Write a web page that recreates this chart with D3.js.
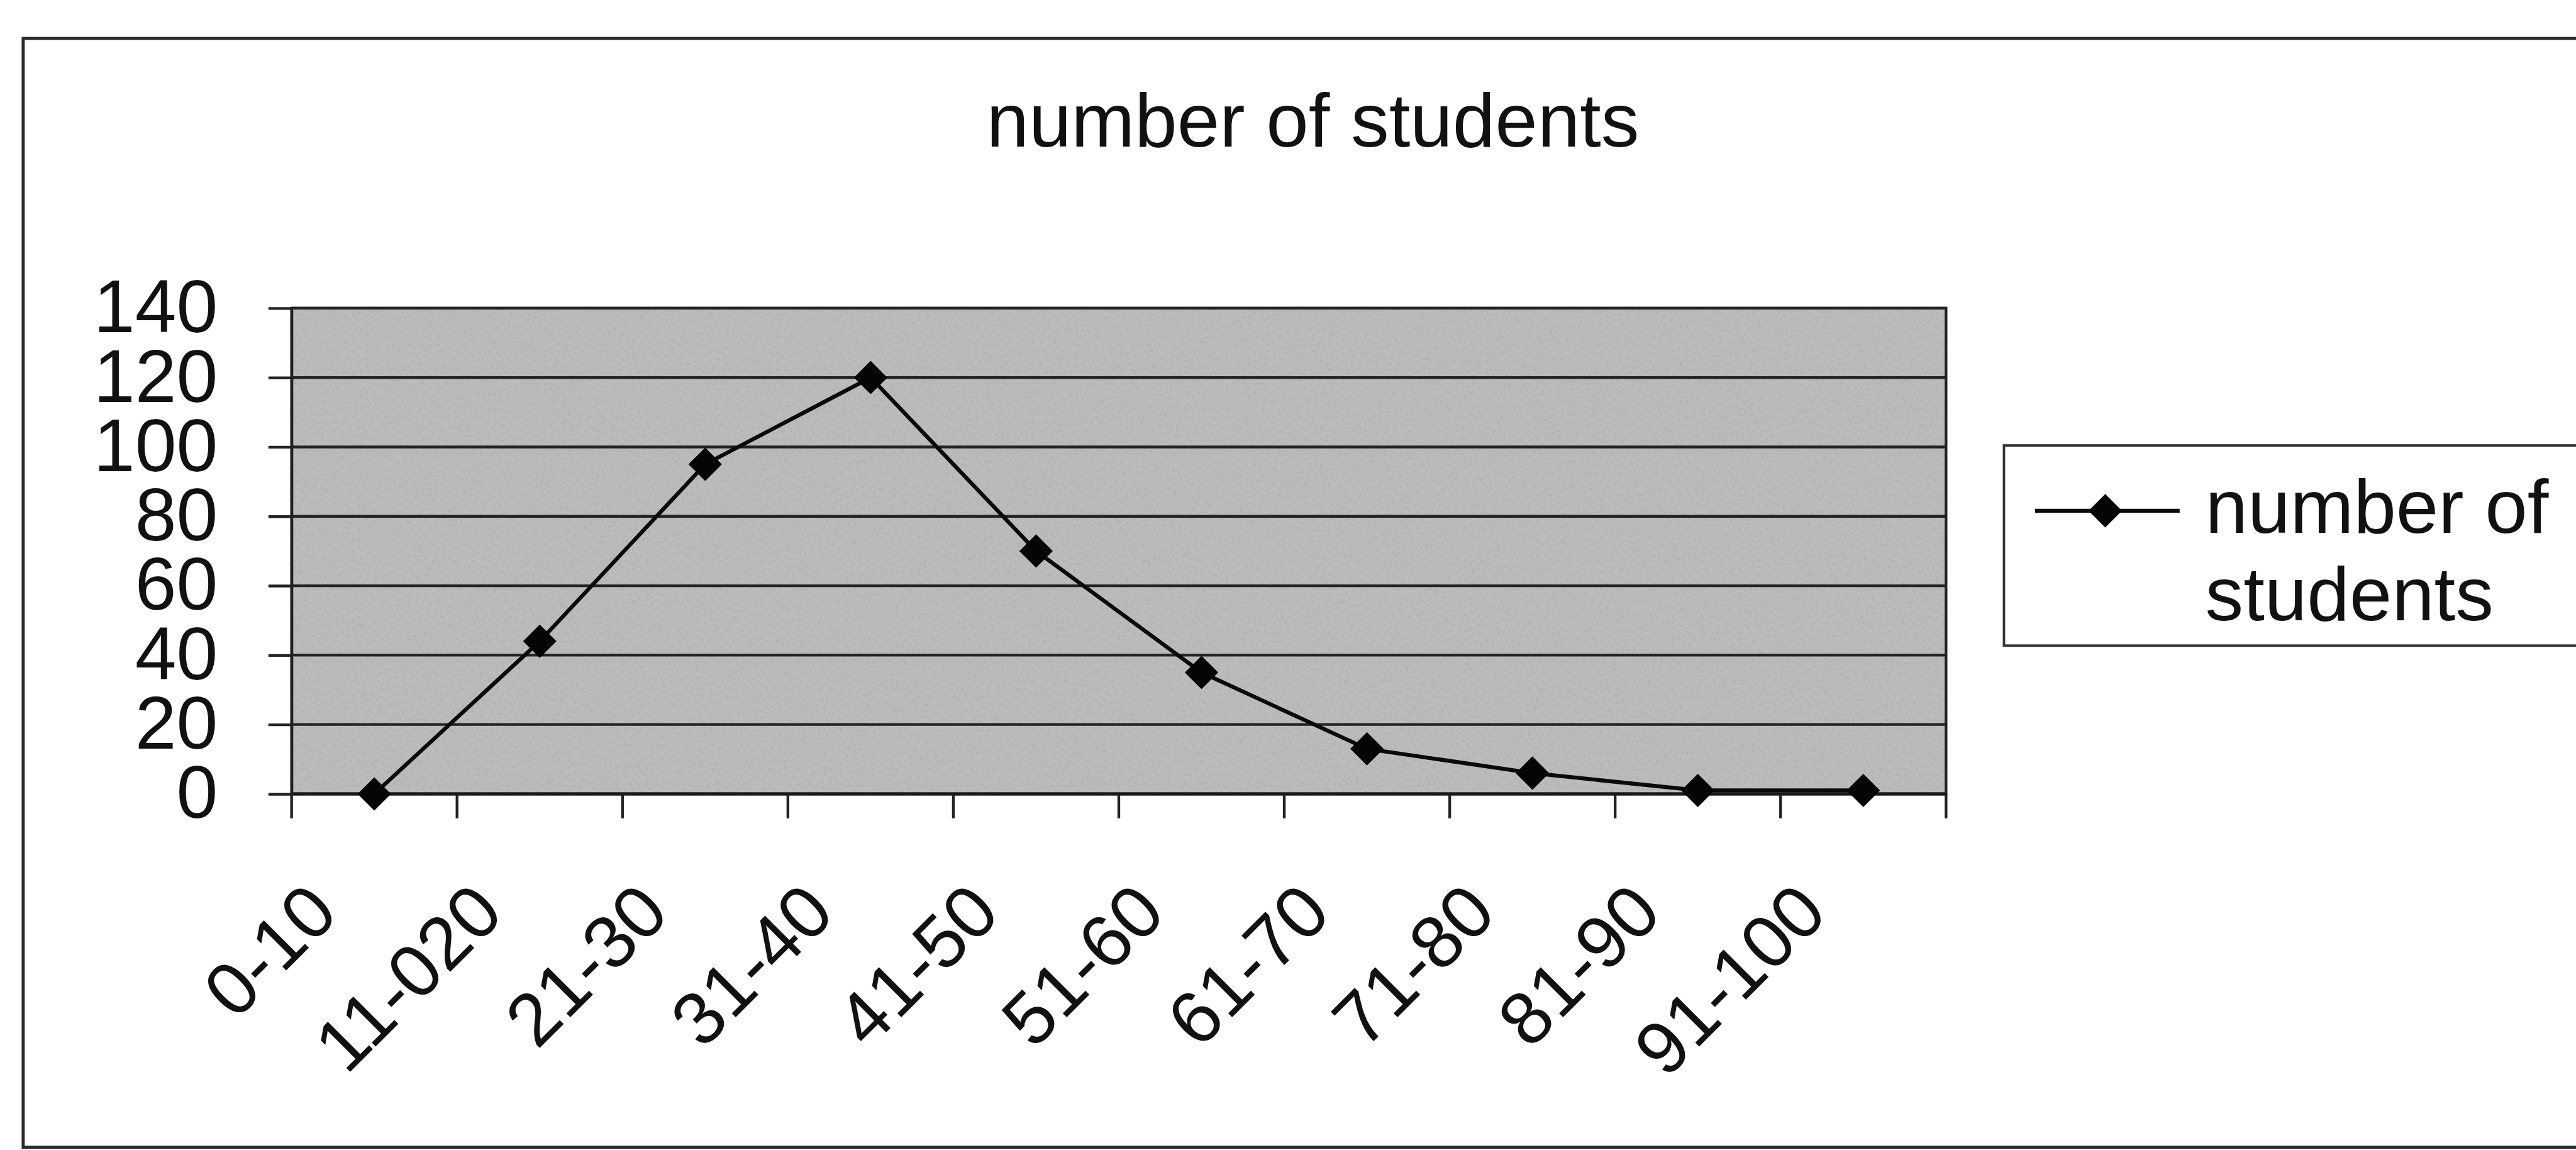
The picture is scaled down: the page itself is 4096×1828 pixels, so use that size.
<!DOCTYPE html>
<html>
<head>
<meta charset="utf-8">
<script src="https://cdn.jsdelivr.net/npm/d3@7"></script>
<style>
  body { margin: 0; background: #fff; overflow: hidden; }
  text { font-family: "Liberation Sans", Arial, sans-serif; fill: #111; }
</style>
</head>
<body>
<div id="chart"></div>
<script>
// data
const categories = ["0-10", "11-020", "21-30", "31-40", "41-50", "51-60", "61-70", "71-80", "81-90", "91-100"];
const students = [0, 44, 95, 120, 70, 35, 13, 6, 1, 1];
const yTicks = [0, 20, 40, 60, 80, 100, 120, 140];
const chartTitle = "number of students";
const legendLines = ["number of", "students"];

// everything is laid out in reference pixels, then scaled to the window
const k = 0.97;
const titleSize = 125;
const tickSize = 122;
const plot = { left: 478, right: 3190, top: 505, bottom: 1301 };

const svg = d3.select("#chart").append("svg")
  .attr("width", 4096)
  .attr("height", 1828);

// speckled grey like the scanned plot area
const grain = svg.append("defs").append("filter")
  .attr("id", "grain")
  .attr("x", 0).attr("y", 0).attr("width", 1).attr("height", 1);
grain.append("feTurbulence")
  .attr("type", "fractalNoise")
  .attr("baseFrequency", 0.22)
  .attr("numOctaves", 2)
  .attr("seed", 7);
grain.append("feColorMatrix")
  .attr("type", "matrix")
  .attr("values", "0 0 0 0 0.4  0 0 0 0 0.4  0 0 0 0 0.4  1.6 0 0 0 -0.7");

const g = svg.append("g").attr("transform", `scale(${k})`);

// outer chart frame (right side runs off the picture)
g.append("rect")
  .attr("x", 38).attr("y", 63)
  .attr("width", 4400).attr("height", 1817)
  .attr("fill", "#fff")
  .attr("stroke", "#2a2a2a")
  .attr("stroke-width", 5);

// title
g.append("text")
  .attr("x", 2152).attr("y", 240)
  .attr("text-anchor", "middle")
  .style("font-size", titleSize + "px")
  .text(chartTitle);

const x = d3.scaleBand().domain(categories).range([plot.left, plot.right]);
const y = d3.scaleLinear().domain([0, 140]).range([plot.bottom, plot.top]);

// plot area
g.append("rect")
  .attr("x", plot.left).attr("y", plot.top)
  .attr("width", plot.right - plot.left).attr("height", plot.bottom - plot.top)
  .attr("fill", "#bcbcbc");
g.append("rect")
  .attr("x", plot.left).attr("y", plot.top)
  .attr("width", plot.right - plot.left).attr("height", plot.bottom - plot.top)
  .attr("filter", "url(#grain)");

// gridlines
g.append("g")
  .selectAll("line")
  .data(yTicks)
  .join("line")
  .attr("x1", plot.left).attr("x2", plot.right)
  .attr("y1", d => y(d)).attr("y2", d => y(d))
  .attr("stroke", "#222")
  .attr("stroke-width", 4.5);

// plot border
g.append("rect")
  .attr("x", plot.left).attr("y", plot.top)
  .attr("width", plot.right - plot.left).attr("height", plot.bottom - plot.top)
  .attr("fill", "none")
  .attr("stroke", "#222")
  .attr("stroke-width", 4.5);

// y axis
const yAxis = g.append("g")
  .attr("transform", `translate(${plot.left},0)`)
  .call(d3.axisLeft(y).tickValues(yTicks).tickSize(38).tickSizeOuter(0).tickPadding(83));
yAxis.select(".domain").attr("stroke", "#222").attr("stroke-width", 4.5);
yAxis.selectAll(".tick line").attr("stroke", "#222").attr("stroke-width", 4.5);
yAxis.selectAll(".tick text")
  .attr("fill", "#111")
  .style("font-size", tickSize + "px")
  .style("font-family", '"Liberation Sans", Arial, sans-serif');

// x axis: ticks sit between categories
const bounds = categories.map(c => x(c)).concat([x.range()[1]]);
g.append("g")
  .selectAll("line")
  .data(bounds)
  .join("line")
  .attr("x1", d => d).attr("x2", d => d)
  .attr("y1", plot.bottom).attr("y2", plot.bottom + 40)
  .attr("stroke", "#222")
  .attr("stroke-width", 4.5);

g.append("line")
  .attr("x1", plot.left).attr("x2", plot.right)
  .attr("y1", plot.bottom).attr("y2", plot.bottom)
  .attr("stroke", "#1a1a1a")
  .attr("stroke-width", 5);

g.append("g")
  .selectAll("text")
  .data(categories)
  .join("text")
  .attr("transform", d => `translate(${x(d) + x.bandwidth() / 2 - 55},${plot.bottom + 200}) rotate(-45)`)
  .attr("text-anchor", "end")
  .style("font-size", tickSize + "px")
  .text(d => d);

// series line and markers
const pts = categories.map((c, i) => ({ c, v: students[i] }));
const line = d3.line()
  .x(d => x(d.c) + x.bandwidth() / 2)
  .y(d => y(d.v));

g.append("path")
  .datum(pts)
  .attr("d", line)
  .attr("fill", "none")
  .attr("stroke", "#0a0a0a")
  .attr("stroke-width", 6.5);

const diamond = d3.symbol(d3.symbolSquare, 1500);
g.append("g")
  .selectAll("path")
  .data(pts)
  .join("path")
  .attr("transform", d => `translate(${x(d.c) + x.bandwidth() / 2},${y(d.v)}) rotate(45)`)
  .attr("d", diamond)
  .attr("fill", "#050505");

// legend
const leg = g.append("g");
leg.append("rect")
  .attr("x", 3285).attr("y", 730)
  .attr("width", 1100).attr("height", 328)
  .attr("fill", "#fff")
  .attr("stroke", "#333")
  .attr("stroke-width", 4);
leg.append("line")
  .attr("x1", 3336).attr("x2", 3573)
  .attr("y1", 837).attr("y2", 837)
  .attr("stroke", "#0a0a0a")
  .attr("stroke-width", 6.5);
leg.append("path")
  .attr("transform", "translate(3451,837) rotate(45)")
  .attr("d", diamond)
  .attr("fill", "#050505");
leg.selectAll("text")
  .data(legendLines)
  .join("text")
  .attr("x", 3615)
  .attr("y", (d, i) => 873 + i * 143)
  .style("font-size", titleSize + "px")
  .text(d => d);
</script>
</body>
</html>
